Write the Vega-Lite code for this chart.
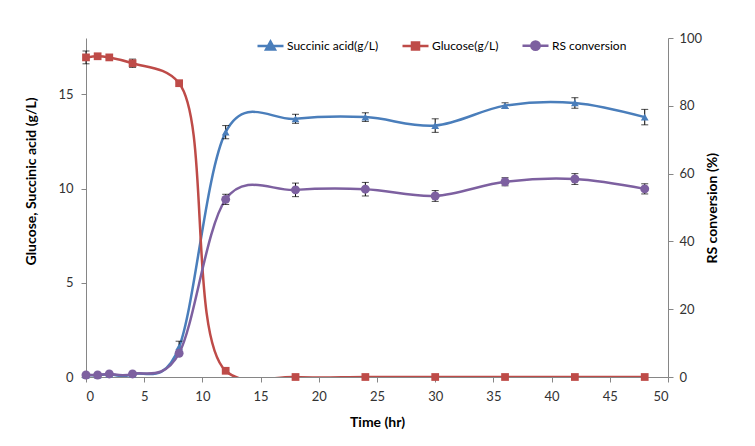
{
  "$schema": "https://vega.github.io/schema/vega-lite/v6.json",
  "width": 582,
  "height": 339,
  "autosize": "none",
  "padding": {"left": 86, "top": 38, "right": 87, "bottom": 69},
  "background": "white",
  "config": {
    "view": {"stroke": null},
    "font": "Lato",
    "axis": {
      "grid": false,
      "domainColor": "#868686",
      "tickColor": "#868686",
      "tickSize": 5,
      "labelFont": "Lato",
      "labelFontSize": 13,
      "labelColor": "#333333",
      "titleFont": "Lato",
      "titleFontSize": 14,
      "titleFontWeight": "bold",
      "titleColor": "#000000"
    },
    "legend": {
      "orient": "none", "legendX": 170, "legendY": -7, "direction": "horizontal",
      "symbolSize": 676, "symbolStrokeWidth": 2.5, "labelFontSize": 12, "labelFont": "Lato", "labelColor": "#000000", "labelOffset": 2, "columnPadding": 18
    }
  },
  "datasets": {
    "d": [
      {"t": 0, "series": "Succinic acid(g/L)", "v": 0.1, "e": 0},
      {"t": 1, "series": "Succinic acid(g/L)", "v": 0.1, "e": 0},
      {"t": 2, "series": "Succinic acid(g/L)", "v": 0.15, "e": 0},
      {"t": 4, "series": "Succinic acid(g/L)", "v": 0.15, "e": 0},
      {"t": 8, "series": "Succinic acid(g/L)", "v": 1.6, "e": 0.3},
      {"t": 12, "series": "Succinic acid(g/L)", "v": 13.0, "e": 0.35},
      {"t": 18, "series": "Succinic acid(g/L)", "v": 13.71, "e": 0.24},
      {"t": 24, "series": "Succinic acid(g/L)", "v": 13.8, "e": 0.23},
      {"t": 30, "series": "Succinic acid(g/L)", "v": 13.35, "e": 0.36},
      {"t": 36, "series": "Succinic acid(g/L)", "v": 14.41, "e": 0.15},
      {"t": 42, "series": "Succinic acid(g/L)", "v": 14.55, "e": 0.28},
      {"t": 48, "series": "Succinic acid(g/L)", "v": 13.8, "e": 0.41},
      {"t": 0, "series": "Glucose(g/L)", "v": 16.97, "e": 0.34},
      {"t": 1, "series": "Glucose(g/L)", "v": 17.03, "e": 0},
      {"t": 2, "series": "Glucose(g/L)", "v": 16.97, "e": 0},
      {"t": 4, "series": "Glucose(g/L)", "v": 16.66, "e": 0.22},
      {"t": 8, "series": "Glucose(g/L)", "v": 15.6, "e": 0},
      {"t": 12, "series": "Glucose(g/L)", "v": 0.33, "e": 0},
      {"t": 18, "series": "Glucose(g/L)", "v": 0, "e": 0},
      {"t": 24, "series": "Glucose(g/L)", "v": 0, "e": 0},
      {"t": 30, "series": "Glucose(g/L)", "v": 0, "e": 0},
      {"t": 36, "series": "Glucose(g/L)", "v": 0, "e": 0},
      {"t": 42, "series": "Glucose(g/L)", "v": 0, "e": 0},
      {"t": 48, "series": "Glucose(g/L)", "v": 0, "e": 0}
    ],
    "r": [
      {"t": 0, "series": "RS conversion", "v": 0.6, "e": 0},
      {"t": 1, "series": "RS conversion", "v": 0.6, "e": 0},
      {"t": 2, "series": "RS conversion", "v": 0.9, "e": 0},
      {"t": 4, "series": "RS conversion", "v": 0.9, "e": 0},
      {"t": 8, "series": "RS conversion", "v": 7.0, "e": 0},
      {"t": 12, "series": "RS conversion", "v": 52.4, "e": 1.5},
      {"t": 18, "series": "RS conversion", "v": 55.2, "e": 2.0},
      {"t": 24, "series": "RS conversion", "v": 55.4, "e": 2.0},
      {"t": 30, "series": "RS conversion", "v": 53.4, "e": 1.6},
      {"t": 36, "series": "RS conversion", "v": 57.6, "e": 1.2},
      {"t": 42, "series": "RS conversion", "v": 58.4, "e": 1.6},
      {"t": 48, "series": "RS conversion", "v": 55.5, "e": 1.5}
    ]
  },
  "layer": [
    {
      "data": {"name": "d"},
      "encoding": {
        "x": {
          "field": "t", "type": "quantitative",
          "scale": {"domain": [0, 50], "nice": false},
          "axis": {"values": [0,5,10,15,20,25,30,35,40,45,50], "title": "Time (hr)", "labelPadding": 8, "titleY": 45, "titleBaseline": "middle"}
        },
        "y": {
          "field": "v", "type": "quantitative",
          "scale": {"domain": [0, 18], "nice": false, "zero": true},
          "axis": {"orient": "left", "values": [0, 5, 10, 15], "title": "Glucose, Succinic acid (g/L)", "labelPadding": 8, "titleX": -55, "titleY": 227, "titleBaseline": "middle", "titleAngle": 270, "titleAlign": "left"}
        },
        "color": {"field": "series", "type": "nominal",
          "scale": {"domain": ["Succinic acid(g/L)", "Glucose(g/L)", "RS conversion"], "range": ["#4A7EBB", "#BE4B48", "#7D60A0"]},
          "legend": {
            "title": null,
            "encode": {
              "symbols": {
                "update": {
                  "shape": {"signal": "datum.value === 'Succinic acid(g/L)' ? 'M-1,0H1M0,-0.34L0.34,0.26L-0.34,0.26Z' : datum.value === 'Glucose(g/L)' ? 'M-1,0H1M-0.27,-0.27H0.27V0.27H-0.27Z' : 'M-1,0H1M-0.32,0A0.32,0.32,0,1,0,0.32,0A0.32,0.32,0,1,0,-0.32,0Z'"},
                  "stroke": {"signal": "scale('color', datum.value)"},
                  "fill": {"signal": "scale('color', datum.value)"},
                  "strokeWidth": {"value": 2.5},
                  "opacity": {"value": 1}
                }
              }
            }
          }
        }
      },
      "layer": [
        {
          "transform": [{"filter": "datum.series === 'Succinic acid(g/L)'"}],
          "mark": {"type": "line", "interpolate": "cardinal", "tension": 0, "strokeWidth": 2.5, "clip": true}
        },
        {
          "transform": [{"filter": "datum.series === 'Glucose(g/L)'"}],
          "mark": {"type": "line", "interpolate": "catmull-rom", "strokeWidth": 2.5, "clip": true}
        },
        {
          "transform": [{"filter": "datum.e > 0"}],
          "mark": {"type": "errorbar", "ticks": {"size": 7, "color": "black", "strokeWidth": 1}, "rule": {"color": "black", "strokeWidth": 1}},
          "encoding": {
            "y": {"field": "v", "type": "quantitative"},
            "yError": {"field": "e"},
            "color": null,
            "detail": {"field": "series"}
          }
        },
        {
          "mark": {"type": "point", "filled": true, "size": 60, "opacity": 1},
          "encoding": {
            "shape": {"field": "series", "type": "nominal", "scale": {"domain": ["Glucose(g/L)", "RS conversion", "Succinic acid(g/L)"], "range": ["square", "circle", "triangle-up"]}, "legend": null}
          }
        }
      ]
    },
    {
      "data": {"name": "r"},
      "encoding": {
        "x": {"field": "t", "type": "quantitative"},
        "y": {
          "field": "v", "type": "quantitative",
          "scale": {"domain": [0, 100], "nice": false},
          "axis": {"orient": "right", "values": [0, 20, 40, 60, 80, 100], "title": "RS conversion (%)", "labelPadding": 6, "titleX": 44, "titleY": 225, "titleBaseline": "middle", "titleAngle": 270, "titleAlign": "left"}
        },
        "color": {"field": "series", "type": "nominal"}
      },
      "layer": [
        {
          "mark": {"type": "line", "interpolate": "cardinal", "tension": 0, "strokeWidth": 2.5, "clip": true}
        },
        {
          "transform": [{"filter": "datum.e > 0"}],
          "mark": {"type": "errorbar", "ticks": {"size": 7, "color": "black", "strokeWidth": 1}, "rule": {"color": "black", "strokeWidth": 1}},
          "encoding": {
            "y": {"field": "v", "type": "quantitative"},
            "yError": {"field": "e"},
            "color": null
          }
        },
        {
          "mark": {"type": "point", "filled": true, "size": 80, "opacity": 1},
          "encoding": {
            "shape": {"field": "series", "type": "nominal", "legend": null}
          }
        }
      ]
    }
  ],
  "resolve": {"scale": {"y": "independent"}}
}
